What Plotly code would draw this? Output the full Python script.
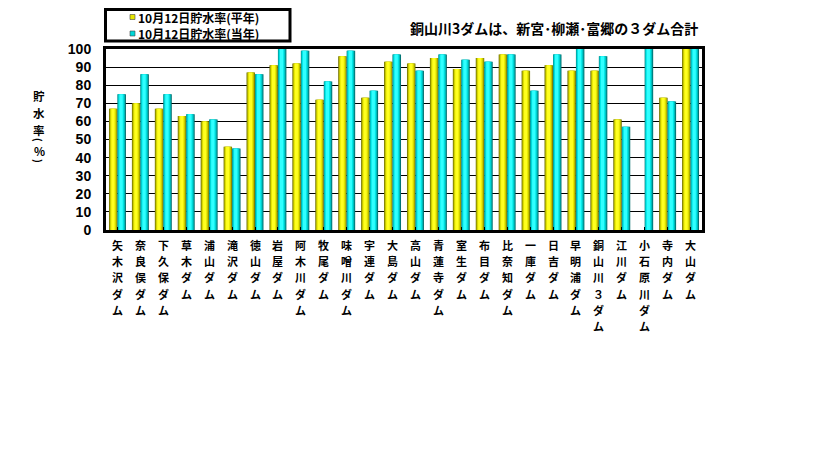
import plotly.graph_objects as go

# Dam names (drawn vertically, one character per line)
dams = [
    "矢木沢ダム", "奈良俣ダム", "下久保ダム", "草木ダム", "浦山ダム", "滝沢ダム",
    "徳山ダム", "岩屋ダム", "阿木川ダム", "牧尾ダム", "味噌川ダム", "宇連ダム",
    "大島ダム", "高山ダム", "青蓮寺ダム", "室生ダム", "布目ダム", "比奈知ダム",
    "一庫ダム", "日吉ダム", "早明浦ダム", "銅山川３ダム", "江川ダム",
    "小石原川ダム", "寺内ダム", "大山ダム",
]

# Storage rate on 12 Oct (%): normal year average and current year
normal_year = [
    67, 70, 67, 63, 60, 46, 87, 91, 92, 72, 96, 73, 93,
    92, 95, 89, 95, 97, 88, 91, 88, 88, 61, None, 73, 100,
]
this_year = [
    75, 86, 75, 64, 61, 45, 86, 100, 99, 82, 99, 77, 97,
    88, 97, 94, 93, 97, 77, 97, 100, 96, 57, 100, 71, 100,
]

y_ticks = list(range(0, 101, 10))
legend_names = ["10月12日貯水率(平年)", "10月12日貯水率(当年)"]
legend_colors = ["#e6e600", "#00d8d8"]
note_text = "銅山川3ダムは、新宮･柳瀬･富郷の３ダム合計"
y_title_chars = ["貯", "水", "率", "(", "%", ")"]

xpos = list(range(len(dams)))

JP = "Noto Sans CJK JP"
W = 0.37  # width of one bar in category units

# figure pixel geometry of the plotting area
L, R, T, B = 106, 702, 49, 230


def px_x(p):
    return (p - L) / (R - L)


def px_y(p):
    return (B - p) / (B - T)


# shading layers (relative offset, width, colour) giving the bars a cylinder look
yellow_layers = [
    (-W, W, "#6e6e00"),
    (-W + 0.03, W - 0.06, "#b8b800"),
    (-W + 0.07, W - 0.15, "#e8e800"),
    (-W + 0.11, W - 0.24, "#ffff20"),
]
cyan_layers = [
    (0.0, W, "#006e6e"),
    (0.01, W - 0.05, "#00b8b8"),
    (0.05, W - 0.14, "#00e6e6"),
    (0.09, W - 0.23, "#30ffff"),
]

fig = go.Figure()
for values, layers, name in ((normal_year, yellow_layers, legend_names[0]),
                             (this_year, cyan_layers, legend_names[1])):
    for off, wid, col in layers:
        fig.add_trace(go.Bar(
            x=xpos, y=values, offset=off, width=wid, name=name,
            marker=dict(color=col, line=dict(width=0)),
            showlegend=False, hoverinfo="skip",
        ))

annotations = []

# vertical category labels: one character per row under each bar group
ROW = 16.2
for i, name in zip(xpos, dams):
    for k, ch in enumerate(name):
        annotations.append(dict(
            text=ch, x=i, y=0, xref="x", yref="paper",
            xanchor="center", yanchor="middle", yshift=-(15 + k * ROW),
            showarrow=False, borderpad=0,
            font=dict(family=JP, size=11, color="black", weight="bold")))

# vertical axis title, characters stacked upright; brackets turned sideways
for ch, yc in zip(y_title_chars, [96, 113, 130, 140, 151, 161]):
    is_bracket = ch in "()"
    annotations.append(dict(
        text=ch, x=px_x(39), y=px_y(yc), xref="paper", yref="paper",
        xanchor="center", yanchor="middle", showarrow=False, borderpad=0,
        textangle=90 if is_bracket else 0,
        font=dict(family=JP, size=10 if is_bracket else 11.5,
                  color="black", weight="bold")))

annotations.append(dict(
    text=note_text, x=0.997, y=px_y(28), xref="paper", yref="paper",
    xanchor="right", yanchor="middle", showarrow=False,
    font=dict(family=JP, size=14, color="black", weight="bold")))

# legend box with small square keys
shapes = [dict(type="rect", xref="paper", yref="paper",
               x0=px_x(105.5), x1=px_x(290), y0=px_y(41), y1=px_y(9.5),
               line=dict(color="black", width=3), fillcolor="white")]
for name, col, yc in zip(legend_names, legend_colors, [17, 33.5]):
    shapes.append(dict(type="rect", xref="paper", yref="paper",
                       x0=px_x(130), x1=px_x(135), y0=px_y(yc + 2.5), y1=px_y(yc - 2.5),
                       line=dict(color="#444444", width=0.6), fillcolor=col))
    annotations.append(dict(
        text=name, x=px_x(137), y=px_y(yc), xref="paper", yref="paper",
        xanchor="left", yanchor="middle", showarrow=False, borderpad=0,
        font=dict(family=JP, size=12, color="black", weight="bold")))

fig.update_layout(
    width=819, height=460,
    margin=dict(l=L, r=819 - R, t=T, b=460 - B),
    paper_bgcolor="white", plot_bgcolor="white",
    barmode="overlay",
    showlegend=False,
    xaxis=dict(
        range=[-0.5, len(dams) - 0.5],
        tickmode="array", tickvals=xpos, showticklabels=False,
        tickson="boundaries", ticks="inside", ticklen=3, tickcolor="black",
        showline=True, linecolor="black", linewidth=3, mirror=True,
        showgrid=False,
    ),
    yaxis=dict(
        range=[0, 100], tickmode="array", tickvals=y_ticks,
        showline=True, linecolor="black", linewidth=3, mirror=True,
        showgrid=True, gridcolor="black", gridwidth=1,
        ticks="", zeroline=False, ticklabelstandoff=9,
        tickfont=dict(family="Liberation Sans", size=14, color="black", weight="bold"),
    ),
    annotations=annotations,
    shapes=shapes,
)

fig.write_html("out.html")
